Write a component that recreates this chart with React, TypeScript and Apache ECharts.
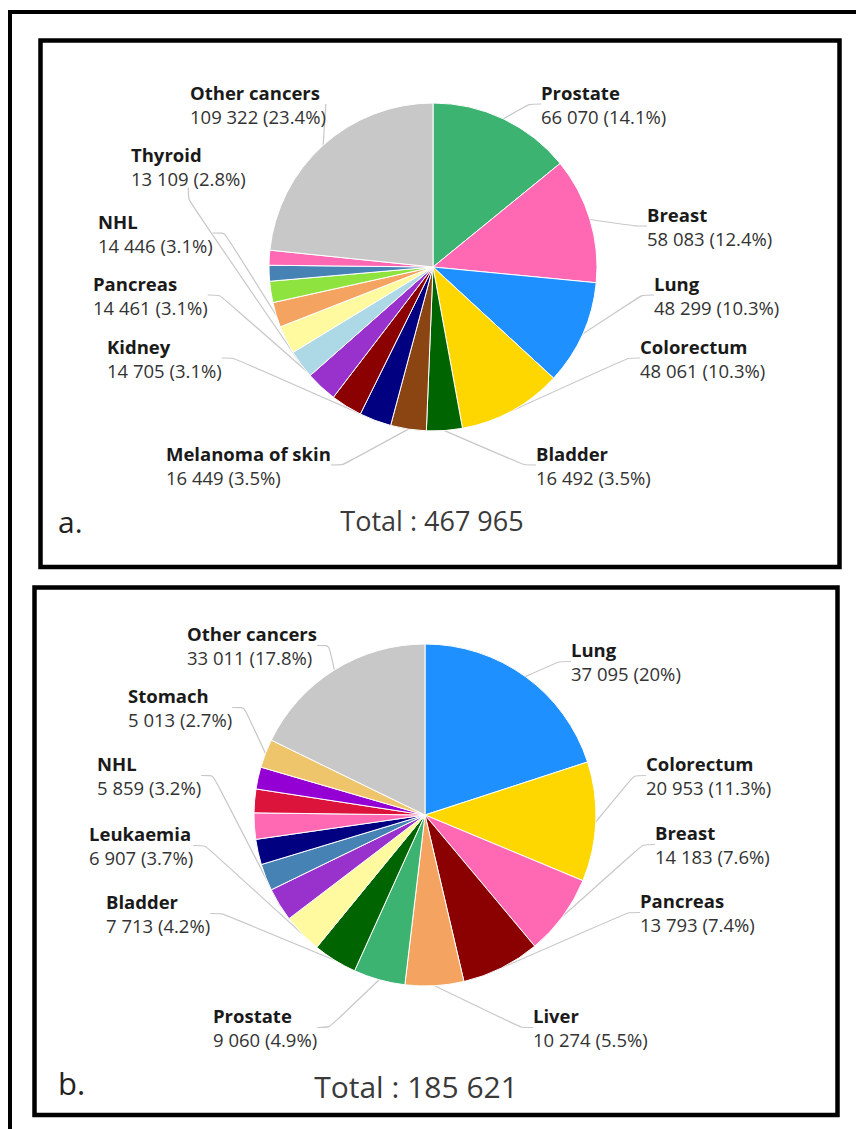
import React, { useEffect, useRef } from "react";
import * as echarts from "echarts";

// ---------- Data: panel a (new cases) ----------
const categoriesA = [
  "Prostate",
  "Breast",
  "Lung",
  "Colorectum",
  "Bladder",
  "Melanoma of skin",
  "Kidney",
  "Pancreas",
  "NHL",
  "Thyroid",
  "Leukaemia",
  "Liver",
  "Lip, oral cavity",
  "Brain, central nervous system",
  "Ovary",
  "Other cancers",
];
const valuesA = [66070, 58083, 48299, 48061, 16492, 16449, 14705, 14461, 14446, 13109, 13000, 11500, 9800, 7300, 6868, 109322];
const labelledA = ["Prostate", "Breast", "Lung", "Colorectum", "Bladder", "Melanoma of skin", "Kidney", "Pancreas", "NHL", "Thyroid", "Other cancers"];

// ---------- Data: panel b (deaths) ----------
const categoriesB = [
  "Lung",
  "Colorectum",
  "Breast",
  "Pancreas",
  "Liver",
  "Prostate",
  "Bladder",
  "Leukaemia",
  "NHL",
  "Brain, central nervous system",
  "Kidney",
  "Ovary",
  "Oesophagus",
  "Multiple myeloma",
  "Stomach",
  "Other cancers",
];
const valuesB = [37095, 20953, 14183, 13793, 10274, 9060, 7713, 6907, 5859, 4700, 4450, 4600, 4150, 3860, 5013, 33011];
const labelledB = ["Lung", "Colorectum", "Breast", "Pancreas", "Liver", "Prostate", "Bladder", "Leukaemia", "NHL", "Stomach", "Other cancers"];

const panelLetters = ["a.", "b."];

// ---------- Styles ----------
const colours: Record<string, string> = {
  Prostate: "#3CB371",
  Breast: "#FF69B4",
  Lung: "#1E90FF",
  Colorectum: "#FFD700",
  Bladder: "#006400",
  "Melanoma of skin": "#8B4513",
  Kidney: "#000080",
  Pancreas: "#8B0000",
  NHL: "#9932CC",
  Thyroid: "#ADD8E6",
  Leukaemia: "#FFFAA0",
  Liver: "#F4A460",
  "Lip, oral cavity": "#8FE33F",
  "Brain, central nervous system": "#4682B4",
  Ovary: "#FF69B4",
  Oesophagus: "#DC143C",
  "Multiple myeloma": "#9400D3",
  Stomach: "#EEC56A",
  "Other cancers": "#C8C8C8",
};

// label block positions (top-left), layout only
const labelPosA: Record<string, [number, number]> = {
  "Other cancers": [190, 80],
  Prostate: [541, 80],
  Breast: [647, 202],
  Lung: [654, 271],
  Colorectum: [640, 334],
  Bladder: [536, 441],
  Thyroid: [131, 142],
  NHL: [98, 209],
  Pancreas: [93, 271],
  Kidney: [107, 334],
  "Melanoma of skin": [166, 441],
};
const labelPosB: Record<string, [number, number]> = {
  "Other cancers": [187, 621],
  Lung: [571, 637],
  Colorectum: [646, 751],
  Breast: [655, 820],
  Pancreas: [640, 888],
  Liver: [533, 1003],
  Stomach: [128, 683],
  NHL: [97, 751],
  Leukaemia: [89, 821],
  Bladder: [106, 889],
  Prostate: [213, 1003],
};

const FONT = "'Open Sans', 'Noto Sans', sans-serif";

const fmt = (v: number) => String(v).replace(/\B(?=(\d{3})+(?!\d))/g, " ");
const pct = (v: number, total: number) => `${Math.round((v / total) * 1000) / 10}%`;

function pieSeries(
  cats: string[],
  vals: number[],
  labelled: string[],
  center: [number, number],
  radius: number,
  positions: Record<string, [number, number]>,
  lineHeight: number
) {
  const total = vals.reduce((a, b) => a + b, 0);
  return {
    type: "pie",
    center,
    radius,
    startAngle: 90,
    clockwise: true,
    avoidLabelOverlap: false,
    silent: true,
    emphasis: { disabled: true },
    itemStyle: { borderColor: "#ffffff", borderWidth: 1 },
    data: cats.map((c, i) => ({
      name: c,
      value: vals[i],
      itemStyle: { color: colours[c] },
      label: { show: labelled.includes(c) },
      labelLine: { show: labelled.includes(c) },
    })),
    label: {
      show: true,
      position: "outside",
      formatter: (p: any) => `{n|${p.name}}\n{v|${fmt(p.value)} (${pct(p.value, total)})}`,
      rich: {
        n: { fontFamily: FONT, fontSize: 18.5, fontWeight: "bold", color: "#1a1a1a", lineHeight },
        v: { fontFamily: FONT, fontSize: 18.5, color: "#333333", lineHeight },
      },
    },
    labelLine: {
      show: true,
      length: 15,
      length2: 12,
      smooth: 0.2,
      lineStyle: { color: "#c8c8c8", width: 1.2 },
    },
    labelLayout: (params: any) => {
      const pos = positions[cats[params.dataIndex]];
      if (!pos) return {};
      return { x: pos[0], y: pos[1], align: "left", verticalAlign: "top" };
    },
  };
}

export default function App() {
  const ref = useRef<HTMLDivElement>(null);
  useEffect(() => {
    if (!ref.current) return;
    const chart = echarts.init(ref.current, null, { renderer: "svg" });
    const totalA = valuesA.reduce((a, b) => a + b, 0);
    const totalB = valuesB.reduce((a, b) => a + b, 0);
    chart.setOption({
      animation: false,
      backgroundColor: "#ffffff",
      series: [
        pieSeries(categoriesA, valuesA, labelledA, [433, 267], 164, labelPosA, 24),
        pieSeries(categoriesB, valuesB, labelledB, [425, 815], 171, labelPosB, 24.5),
      ],
      graphic: [
        { type: "rect", shape: { x: 10, y: 12, width: 900, height: 1300 }, style: { fill: "none", stroke: "#000", lineWidth: 4 }, silent: true },
        { type: "rect", shape: { x: 40.5, y: 40.5, width: 799, height: 526.5 }, style: { fill: "none", stroke: "#000", lineWidth: 4.5 }, silent: true },
        { type: "rect", shape: { x: 34.5, y: 587.5, width: 803, height: 527.5 }, style: { fill: "none", stroke: "#000", lineWidth: 4.5 }, silent: true },
        { type: "text", x: 58, y: 521, style: { text: panelLetters[0], font: `30px ${FONT}`, fill: "#222", textVerticalAlign: "middle" }, silent: true },
        { type: "text", x: 432, y: 520, style: { text: `Total : ${fmt(totalA)}`, font: `27px ${FONT}`, fill: "#3a3a3a", textAlign: "center", textVerticalAlign: "middle" }, silent: true },
        { type: "text", x: 58, y: 1083, style: { text: panelLetters[1], font: `31px ${FONT}`, fill: "#222", textVerticalAlign: "middle" }, silent: true },
        { type: "text", x: 416, y: 1086, style: { text: `Total : ${fmt(totalB)}`, font: `30px ${FONT}`, fill: "#3a3a3a", textAlign: "center", textVerticalAlign: "middle" }, silent: true },
      ],
    });
    return () => chart.dispose();
  }, []);
  return <div ref={ref} style={{ position: "absolute", left: 0, top: 0, width: 856, height: 1129 }} />;
}
